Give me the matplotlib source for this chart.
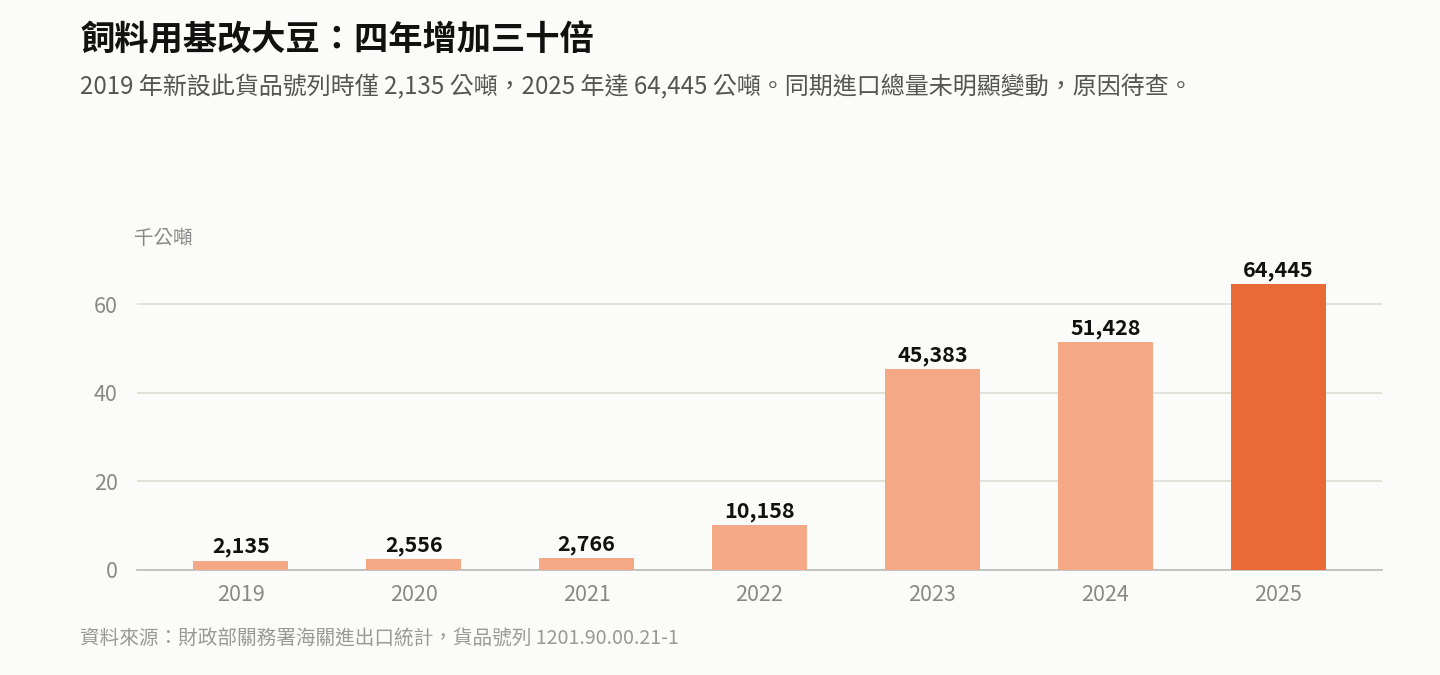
import matplotlib
matplotlib.use('Agg')
from matplotlib import pyplot as plt

plt.rcParams['font.family'] = ['Noto Sans CJK TC', 'DejaVu Sans']

# 資料
years = ['2019', '2020', '2021', '2022', '2023', '2024', '2025']
tons = [2135, 2556, 2766, 10158, 45383, 51428, 64445]
yticks = [0, 20, 40, 60]

bg = '#FBFBF9'
light = '#F5A886'
dark = '#EA6A37'

fig = plt.figure(figsize=(14.4, 6.75), dpi=100, facecolor=bg)
ax = fig.add_axes([0.0951, 0.1556, 0.8646, 0.474], facecolor=bg)

vals = [t / 1000 for t in tons]
colors = [light] * (len(vals) - 1) + [dark]
x = range(len(years))
bars = ax.bar(x, vals, width=0.55, color=colors, zorder=3)

for b, t in zip(bars, tons):
    ax.text(b.get_x() + b.get_width() / 2, b.get_height() + 0.7, f'{t:,}',
            ha='center', va='bottom', fontsize=15.5, fontweight='bold', color='#111111')

ax.set_xlim(-0.6, 6.6)
ax.set_ylim(0, 72.2)
ax.set_xticks(list(x))
ax.set_xticklabels(years)
ax.set_yticks(yticks)
ax.tick_params(axis='both', length=0, labelsize=15.5, labelcolor='#888888')
ax.tick_params(axis='x', pad=10)
ax.tick_params(axis='y', pad=14)
ax.grid(axis='y', color='#DDDDD5', linewidth=1.2, zorder=0)
for s in ['top', 'right', 'left']:
    ax.spines[s].set_visible(False)
ax.spines['bottom'].set_color('#BBBBBB')
ax.spines['bottom'].set_linewidth(1.2)

fig.text(80 / 1440, 1 - 40 / 675, '飼料用基改大豆：四年增加三十倍', fontsize=24.7, fontweight='bold',
         color='#111111', va='center', ha='left')
fig.text(80 / 1440, 1 - 87 / 675,
         '2019 年新設此貨品號列時僅 2,135 公噸，2025 年達 64,445 公噸。同期進口總量未明顯變動，原因待查。',
         fontsize=17.3, color='#555555', va='center', ha='left')
fig.text(134 / 1440, 1 - 238 / 675, '千公噸', fontsize=14, color='#888888', va='center', ha='left')
fig.text(80 / 1440, 1 - 639 / 675, '資料來源：財政部關務署海關進出口統計，貨品號列 1201.90.00.21-1',
         fontsize=14.15, color='#999999', va='center', ha='left')

fig.savefig('out.png', dpi=100, facecolor=bg)
